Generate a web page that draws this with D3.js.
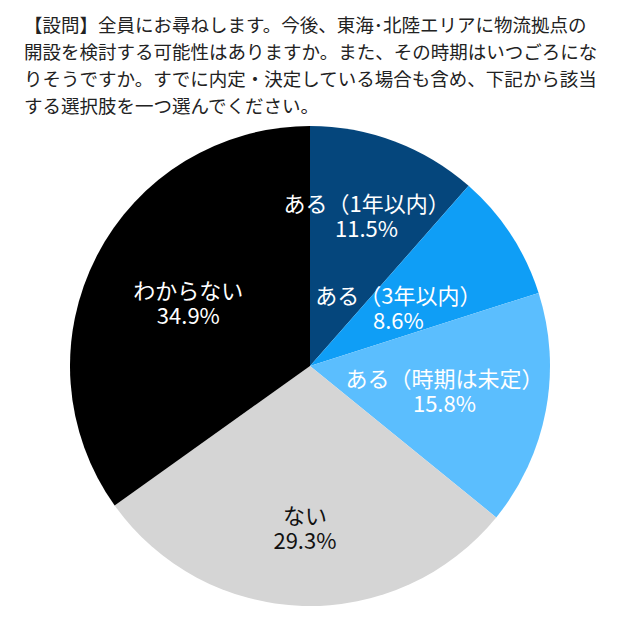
<!DOCTYPE html>
<html lang="ja">
<head>
<meta charset="utf-8">
<script src="https://cdn.jsdelivr.net/npm/d3@7"></script>
<style>
  html, body { margin: 0; padding: 0; background: #fff; }
  #chart { width: 620px; height: 635px; }
</style>
</head>
<body>
<div id="chart"></div>
<script>
var questionLines = [
  '【設問】全員にお尋ねします。今後、東海･北陸エリアに物流拠点の',
  '開設を検討する可能性はありますか。また、その時期はいつごろにな',
  'りそうですか。すでに内定・決定している場合も含め、下記から該当',
  'する選択肢を一つ選んでください。'
];
var categories = ['ある（1年以内）', 'ある（3年以内）', 'ある（時期は未定）', 'ない', 'わからない'];
var shares = [11.5, 8.6, 15.8, 29.3, 34.9];

(function () {
  'use strict';

  var width = 620;
  var height = 635;
  var cx = 310;
  var cy = 366;
  var radius = 240;
  var font = '"Noto Sans CJK JP", "Noto Sans", sans-serif';

  var fills = ['#05467c', '#0f9ef6', '#5bbefe', '#d5d5d5', '#000000'];
  var textFills = ['#fff', '#fff', '#fff', '#111', '#fff'];
  // how far out each label sits, as a share of the radius
  var labelAt = [0.667, 0.44, 0.57, 0.675, 0.57];

  var svg = d3.select('#chart').append('svg')
    .attr('width', width)
    .attr('height', height)
    .attr('viewBox', '0 0 ' + width + ' ' + height);

  svg.append('g').selectAll('text')
    .data(questionLines).enter().append('text')
    .attr('x', 24)
    .attr('y', function (d, i) { return 32 + i * 27; })
    .attr('font-family', font)
    .attr('font-size', '18.5px')
    .attr('fill', '#222')
    .text(function (d) { return d; });

  var slices = categories.map(function (c, i) {
    return { name: c, value: shares[i], i: i };
  });

  var pie = d3.pie()
    .sort(null)
    .value(function (d) { return d.value; });

  var arc = d3.arc().innerRadius(0).outerRadius(radius);

  var g = svg.append('g').attr('transform', 'translate(' + cx + ',' + cy + ')');
  var arcs = pie(slices);

  g.append('g').selectAll('path')
    .data(arcs).enter().append('path')
    .attr('d', arc)
    .attr('fill', function (d) { return fills[d.data.i]; });

  var label = g.append('g').selectAll('g')
    .data(arcs).enter().append('g')
    .attr('transform', function (d) {
      var r = radius * labelAt[d.data.i];
      var c = d3.arc().innerRadius(r).outerRadius(r).centroid(d);
      return 'translate(' + c[0] + ',' + c[1] + ')';
    });

  label.append('text')
    .attr('text-anchor', 'middle')
    .attr('font-family', font)
    .attr('font-size', '22px')
    .attr('fill', function (d) { return textFills[d.data.i]; })
    .selectAll('tspan')
    .data(function (d) { return [d.data.name, d.data.value.toFixed(1) + '%']; })
    .enter().append('tspan')
    .attr('x', 0)
    .attr('y', function (d, i) { return i === 0 ? -4 : 21; })
    .text(function (d) { return d; });
})();
</script>
</body>
</html>
